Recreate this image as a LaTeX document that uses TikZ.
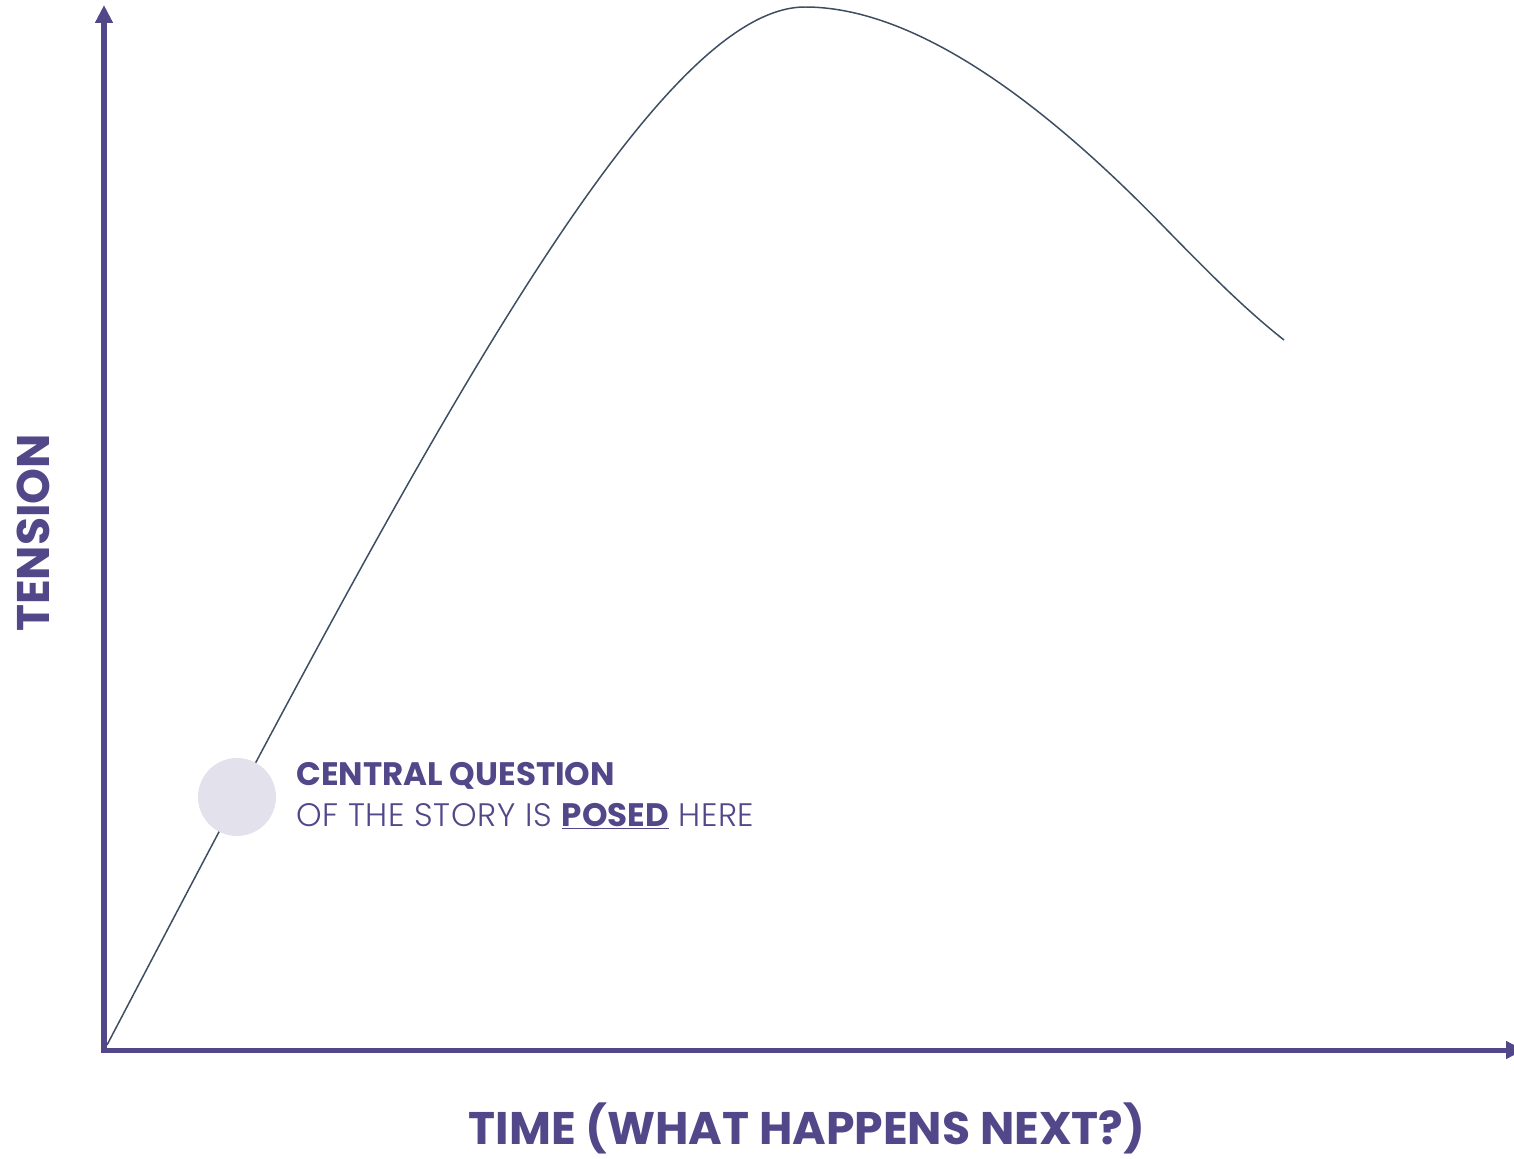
\documentclass[tikz,border=0pt]{standalone}
\usepackage{fontspec}
\setmainfont{Poppins}
\newfontfamily\poplight{Poppins Light}[LetterSpace=2]
\usetikzlibrary{arrows.meta, positioning}
\definecolor{storypurple}{RGB}{82,71,137}
\definecolor{curveslate}{RGB}{61,78,99}
\definecolor{dotlilac}{RGB}{227,225,236}

\begin{document}
\begin{tikzpicture}[x=0.02cm, y=-0.02cm,
  axis/.style={draw=storypurple, line width=2.85pt, line cap=rect, -{Triangle[width=9.6pt, length=10.2pt]}},
  arc/.style={draw=curveslate, line width=0.85pt},
  axislabel/.style={font=\fontsize{26}{30}\selectfont\bfseries, text=storypurple, inner sep=0pt},
  note/.style={font=\fontsize{18.5}{22}\selectfont, text=storypurple, inner sep=0pt},
  qdot/.style={circle, fill=dotlilac, minimum size=1.56cm, inner sep=0pt}]
  \useasboundingbox (0,0) rectangle (1514,1159);

  % Axes
  \coordinate (origin) at (104,1050);
  \coordinate (ytop)   at (104,5);
  \coordinate (xend)   at (1524,1050);
  \draw[axis] (origin) -- (ytop);
  \draw[axis] (origin) -- (xend);

  % Tension curve
  \coordinate (start) at (107,1045);
  \coordinate (peak)  at (805,7);
  \coordinate (bend)  at (1168,231);
  \coordinate (stop)  at (1284,340);
  \draw[arc] (start) .. controls (410,467) and (650,7) .. (peak)
                     .. controls (935,7) and (1080,140) .. (bend)
                     .. controls (1212,276) and (1246,310) .. (stop);

  % Marker on the curve
  \node[qdot] (qdot) at (237,797) {};

  % Labels
  \node[note, anchor=base west] (qtitle) at (296,785) {\bfseries CENTRAL QUESTION};
  \node[note, anchor=base west] (qline)  at (296,826) {\poplight OF THE STORY IS \textnormal{\bfseries\underline{POSED}} HERE};
  \node[axislabel, rotate=90, anchor=base] (ylabel) at (50,533) {TENSION};
  \node[axislabel, anchor=base] (xlabel) at (807,1144) {TIME (WHAT HAPPENS NEXT?)};
\end{tikzpicture}
\end{document}
